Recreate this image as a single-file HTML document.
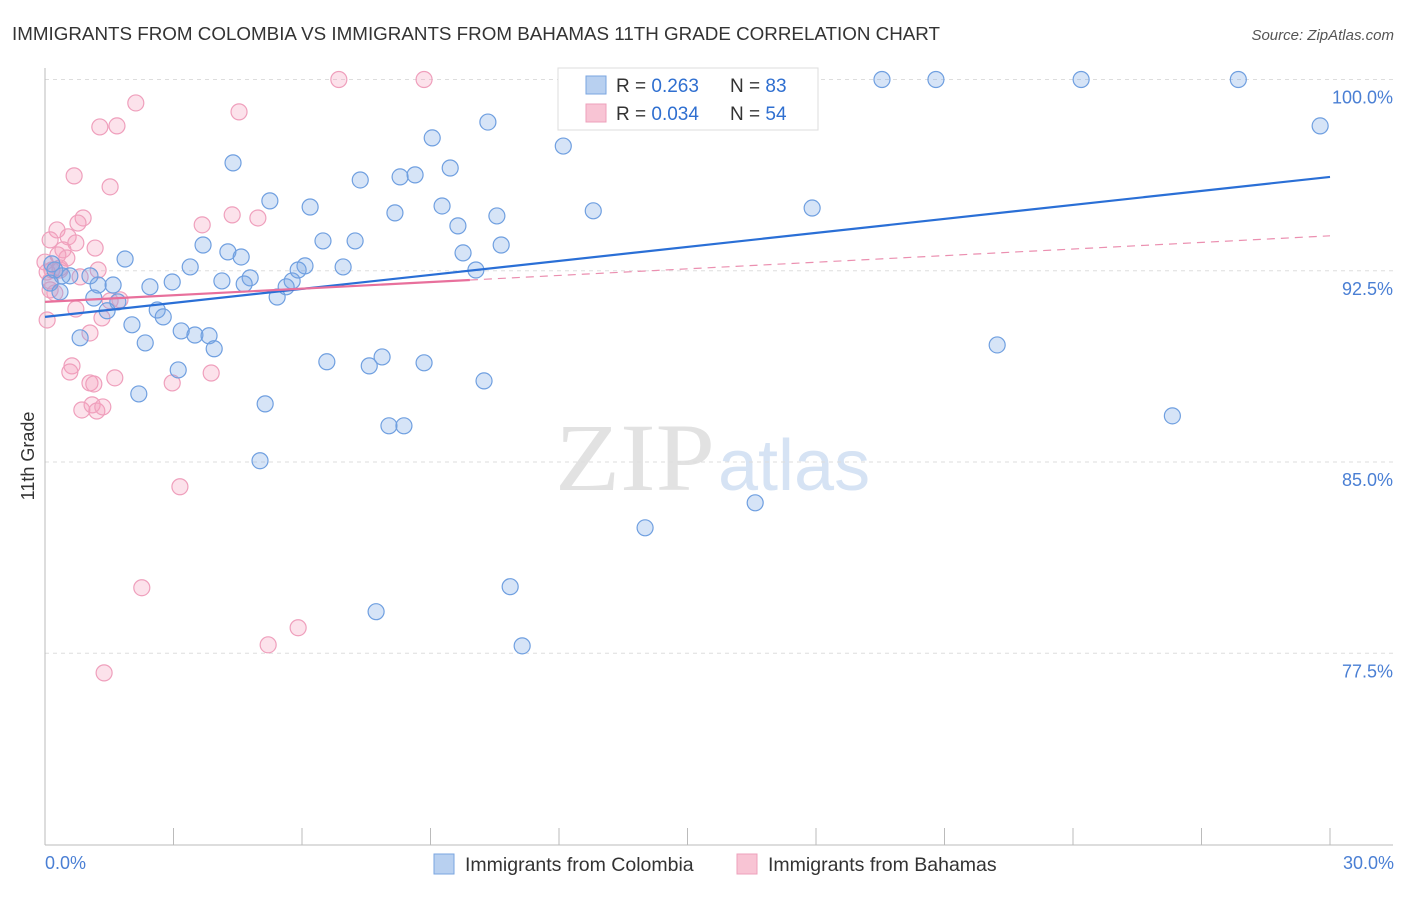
<!DOCTYPE html>
<html><head><meta charset="utf-8"><style>
body{margin:0;background:#fff;font-family:"Liberation Sans",sans-serif;}
</style></head><body>
<svg width="1406" height="892" viewBox="0 0 1406 892" xmlns="http://www.w3.org/2000/svg">
<text x="12" y="40" font-size="18.5" fill="#333" textLength="928" lengthAdjust="spacingAndGlyphs">IMMIGRANTS FROM COLOMBIA VS IMMIGRANTS FROM BAHAMAS 11TH GRADE CORRELATION CHART</text>
<text x="1394" y="40" font-size="15" fill="#555" font-style="italic" text-anchor="end">Source: ZipAtlas.com</text>
<text x="555" y="490" font-size="96" fill="#e2e2e2" textLength="160" lengthAdjust="spacingAndGlyphs" font-family="Liberation Serif">ZIP</text>
<text x="718" y="490" font-size="72" fill="#d6e3f4">atlas</text>
<g id="grid"></g>
<g id="axes"></g>
<g id="pts"></g>
<g id="trend"></g>
<text x="34" y="456" font-size="18" fill="#333" text-anchor="middle" transform="rotate(-90 34 456)">11th Grade</text>
<text x="45" y="869" font-size="18" fill="#4a7fd4">0.0%</text>
<text x="1394" y="869" font-size="18" fill="#4a7fd4" text-anchor="end">30.0%</text>
<g>
<rect x="558" y="68" width="260" height="62" fill="#fff" stroke="#ddd"/>
<rect x="586" y="76" width="20" height="18" fill="#b8d0f0" stroke="#7aa6e0"/>
<rect x="586" y="104" width="20" height="18" fill="#f8c4d4" stroke="#eea0bb"/>
<text x="616" y="92" font-size="19" fill="#333">R = <tspan fill="#2f6fd0">0.263</tspan></text>
<text x="730" y="92" font-size="19" fill="#333">N = <tspan fill="#2f6fd0">83</tspan></text>
<text x="616" y="120" font-size="19" fill="#333">R = <tspan fill="#2f6fd0">0.034</tspan></text>
<text x="730" y="120" font-size="19" fill="#333">N = <tspan fill="#2f6fd0">54</tspan></text>
</g>
<g>
<rect x="434" y="854" width="20" height="20" fill="#b8d0f0" stroke="#7aa6e0"/>
<text x="465" y="871" font-size="19.5" fill="#333">Immigrants from Colombia</text>
<rect x="737" y="854" width="20" height="20" fill="#f8c4d4" stroke="#eea0bb"/>
<text x="768" y="871" font-size="19.5" fill="#333">Immigrants from Bahamas</text>
</g>
</svg>
<script>
const yTicks=[100,92.5,85,77.5];
const yTickLabels=["100.0%","92.5%","85.0%","77.5%"];
const colX=[19.54,20.80,24.19,27.86,14.43,29.77,10.34,12.10,9.04,4.39,9.46,7.36,8.29,8.64,5.25,6.19,8.17,9.27,10.55,12.80,17.91,6.49,7.24,9.64,10.65,3.69,4.27,4.58,1.87,3.39,6.96,10.06,6.07,5.91,9.76,4.79,4.13,4.65,5.77,5.63,5.42,2.97,2.45,1.59,1.24,0.58,0.40,1.05,0.23,0.12,1.14,1.70,1.45,2.62,2.76,2.03,3.18,3.50,3.83,3.95,0.82,2.34,22.23,6.58,7.57,7.87,8.85,3.11,10.25,2.19,5.14,8.03,8.38,26.32,5.02,16.58,14.01,10.86,7.73,11.14,0.35,0.16];
const colY=[100,100,100,100,99.82,98.18,98.33,97.39,97.71,96.73,96.53,96.06,96.18,96.26,95.24,95.0,94.77,95.04,94.65,94.85,94.96,93.67,93.67,94.26,93.51,93.51,93.24,93.04,92.96,92.65,92.65,92.53,92.69,92.53,93.20,92.22,92.10,91.98,92.10,91.87,91.47,92.06,91.87,91.94,91.94,92.30,92.30,92.30,92.53,92.02,91.43,91.28,90.93,90.96,90.69,90.38,90.14,89.98,89.95,89.44,89.87,89.67,89.59,88.93,88.77,89.12,88.89,88.61,88.18,87.67,87.28,86.42,86.42,86.81,85.05,83.40,82.42,80.11,79.13,77.79,91.67,92.77];
const bahX=[6.86,8.85,2.12,4.53,1.28,1.68,0.68,1.52,0.89,0.77,3.67,4.37,4.97,0.28,0.12,0.54,0.72,1.17,0.42,0.51,0.30,0.16,0.05,0.35,0.82,0.12,0.23,1.52,0.72,1.33,0.05,1.05,0.63,0.58,1.63,1.05,1.14,2.97,3.88,0.86,1.10,1.21,1.35,3.15,2.26,5.21,5.91,1.38,0.12,0.35,1.24,1.75,0.0];
const bahY=[100,100,99.08,98.73,98.14,98.18,96.22,95.79,94.57,94.37,94.30,94.69,94.57,94.10,93.71,93.83,93.59,93.39,93.32,93.00,93.12,92.53,92.45,92.53,92.26,91.75,91.63,91.32,91.00,90.65,90.57,90.06,88.77,88.53,88.30,88.10,88.06,88.10,88.49,87.04,87.24,87.0,87.16,84.03,80.07,77.83,78.50,76.73,92.10,92.61,92.53,91.36,92.84];
const colTrend=[90.69,96.18];
const bahTrend=[91.28,93.87];
const bahSolidEnd=9.92;
const NS="http://www.w3.org/2000/svg";
const sx=v=>45+v/30*1285;
const sy=v=>79.5+(100-v)*25.5;
function mk(tag,attrs,parent){const e=document.createElementNS(NS,tag);for(const k in attrs)e.setAttribute(k,attrs[k]);parent.appendChild(e);return e;}
const grid=document.getElementById('grid'),axes=document.getElementById('axes'),pts=document.getElementById('pts'),tr=document.getElementById('trend');
yTicks.forEach((t,i)=>{
 const l=mk('line',{x1:45,x2:1393,y1:sy(t),y2:sy(t),stroke:'#ddd','stroke-dasharray':'4,4'},grid);
 
 
 const tx=mk('text',{x:1393,y:sy(t)+24,'font-size':18,fill:'#4a7fd4','text-anchor':'end'},grid);
 tx.textContent=yTickLabels[i];
 
 
});
const ya=mk('line',{x1:45,x2:45,y1:68,y2:845,stroke:'#bbb'},axes);


const xa=mk('line',{x1:45,x2:1393,y1:845,y2:845,stroke:'#bbb'},axes);


for(let i=1;i<=10;i++){
 const t=mk('line',{x1:sx(i*3),x2:sx(i*3),y1:828,y2:845,stroke:'#bbb'},axes);
 
 
}
bahX.forEach((x,i)=>{
 const c=mk('circle',{cx:sx(x),cy:sy(bahY[i]),r:8,fill:'rgba(244,160,190,0.3)',stroke:'#ef9fbc','stroke-width':1.2},pts);
 
 
});
colX.forEach((x,i)=>{
 const c=mk('circle',{cx:sx(x),cy:sy(colY[i]),r:8,fill:'rgba(120,165,230,0.3)',stroke:'#6f9fe0','stroke-width':1.2},pts);
 
 
});
const bl=mk('line',{x1:sx(0),y1:sy(colTrend[0]),x2:sx(30),y2:sy(colTrend[1]),stroke:'#2a6fd6','stroke-width':2.2},tr);


const by=v=>bahTrend[0]+(bahTrend[1]-bahTrend[0])*v/30;
const pd=mk('line',{x1:sx(bahSolidEnd),y1:sy(by(bahSolidEnd)),x2:sx(30),y2:sy(bahTrend[1]),stroke:'#eb8fb0','stroke-width':1.2,'stroke-dasharray':'8,6'},tr);


const ps=mk('line',{x1:sx(0),y1:sy(bahTrend[0]),x2:sx(bahSolidEnd),y2:sy(by(bahSolidEnd)),stroke:'#e8709c','stroke-width':2.2},tr);


</script>
</body></html>
